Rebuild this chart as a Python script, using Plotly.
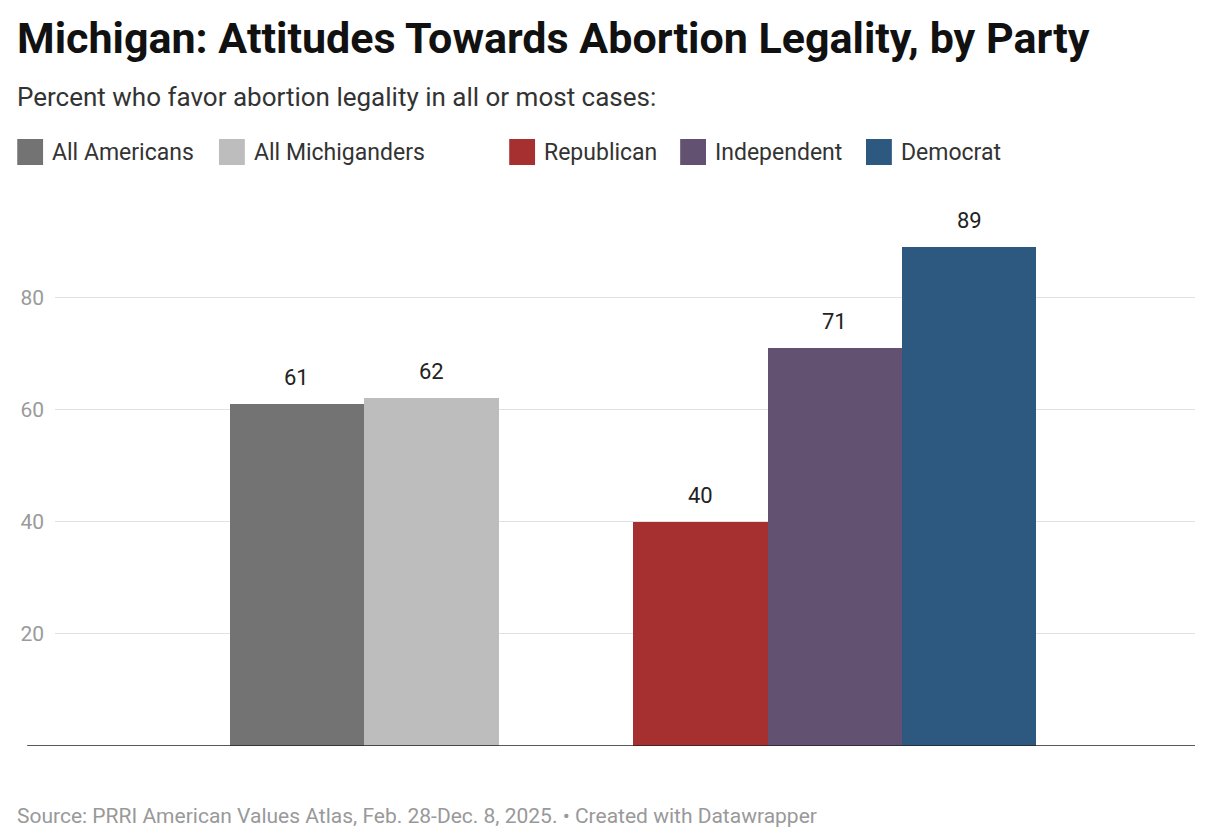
import plotly.graph_objects as go

categories = ["All Americans", "All Michiganders", " ", "Republican", "Independent", "Democrat"]
names = ["All Americans", "All Michiganders", "Republican", "Independent", "Democrat"]
values = [61, 62, 40, 71, 89]
colors = ["#737373", "#bdbdbd", "#a63030", "#635172", "#2d5981"]
y_ticks = [20, 40, 60, 80]

W, H = 1212, 832
L, R, T, B = 40, 25, 182, 94
PW, PH = W - L - R, H - T - B


def px(x):  # screen pixel -> paper x
    return (x - 8 - L) / PW


def py(y):  # screen pixel -> paper y
    return (H - B - (y - 8)) / PH


fig = go.Figure()
for name, val, col in zip(names, values, colors):
    fig.add_trace(go.Bar(x=[name], y=[val], name=name, marker_color=col, width=1,
                         marker_line_width=0, showlegend=False))
    fig.add_annotation(x=name, y=val, text=str(val), showarrow=False, yanchor="bottom",
                       yshift=12, font=dict(size=22, color="#222"))

fig.update_layout(
    width=W, height=H,
    margin=dict(l=L, r=R, t=T, b=B),
    paper_bgcolor="white", plot_bgcolor="white",
    font=dict(family="Roboto", color="#333"),
    barmode="overlay", bargap=0,
    xaxis=dict(type="category", categoryorder="array", categoryarray=categories,
               range=[-1.8, 6.68], showticklabels=False, showgrid=False,
               zeroline=False, showline=False, ticks=""),
    yaxis=dict(range=[0, 99.1], tickvals=y_ticks, showgrid=True, gridcolor="#e2e2e2",
               zeroline=False, showline=False, ticks="",
               tickfont=dict(size=21, color="#9a9a9a"), ticklabelstandoff=10),
)

fig.add_shape(type="line", xref="paper", yref="y", x0=px(20), x1=1, y0=0, y1=0,
              line=dict(color="#222", width=1.6))

fig.add_annotation(text="<b>Michigan: Attitudes Towards Abortion Legality, by Party</b>",
                   xref="paper", yref="paper", x=px(8), y=py(38), xanchor="left",
                   yanchor="middle", showarrow=False, font=dict(size=43, color="#111"))
fig.add_annotation(text="Percent who favor abortion legality in all or most cases:",
                   xref="paper", yref="paper", x=px(8), y=py(97), xanchor="left",
                   yanchor="middle", showarrow=False, font=dict(size=26, color="#333"))
fig.add_annotation(text="Source: PRRI American Values Atlas, Feb. 28-Dec. 8, 2025. • Created with Datawrapper",
                   xref="paper", yref="paper", x=px(8), y=py(816), xanchor="left",
                   yanchor="middle", showarrow=False, font=dict(size=21, color="#999"))

# legend, drawn as swatches and labels
legend_x = [10, 213, 505, 677, 864]
for lx, name, col in zip(legend_x, names, colors):
    fig.add_shape(type="rect", xref="paper", yref="paper", x0=px(lx), x1=px(lx + 26),
                  y0=py(165), y1=py(139), fillcolor=col, line_width=0)
    fig.add_annotation(text=name, xref="paper", yref="paper", x=px(lx + 33), y=py(152),
                       xanchor="left", yanchor="middle", showarrow=False,
                       font=dict(size=23, color="#333"))

fig.write_html("out.html")
